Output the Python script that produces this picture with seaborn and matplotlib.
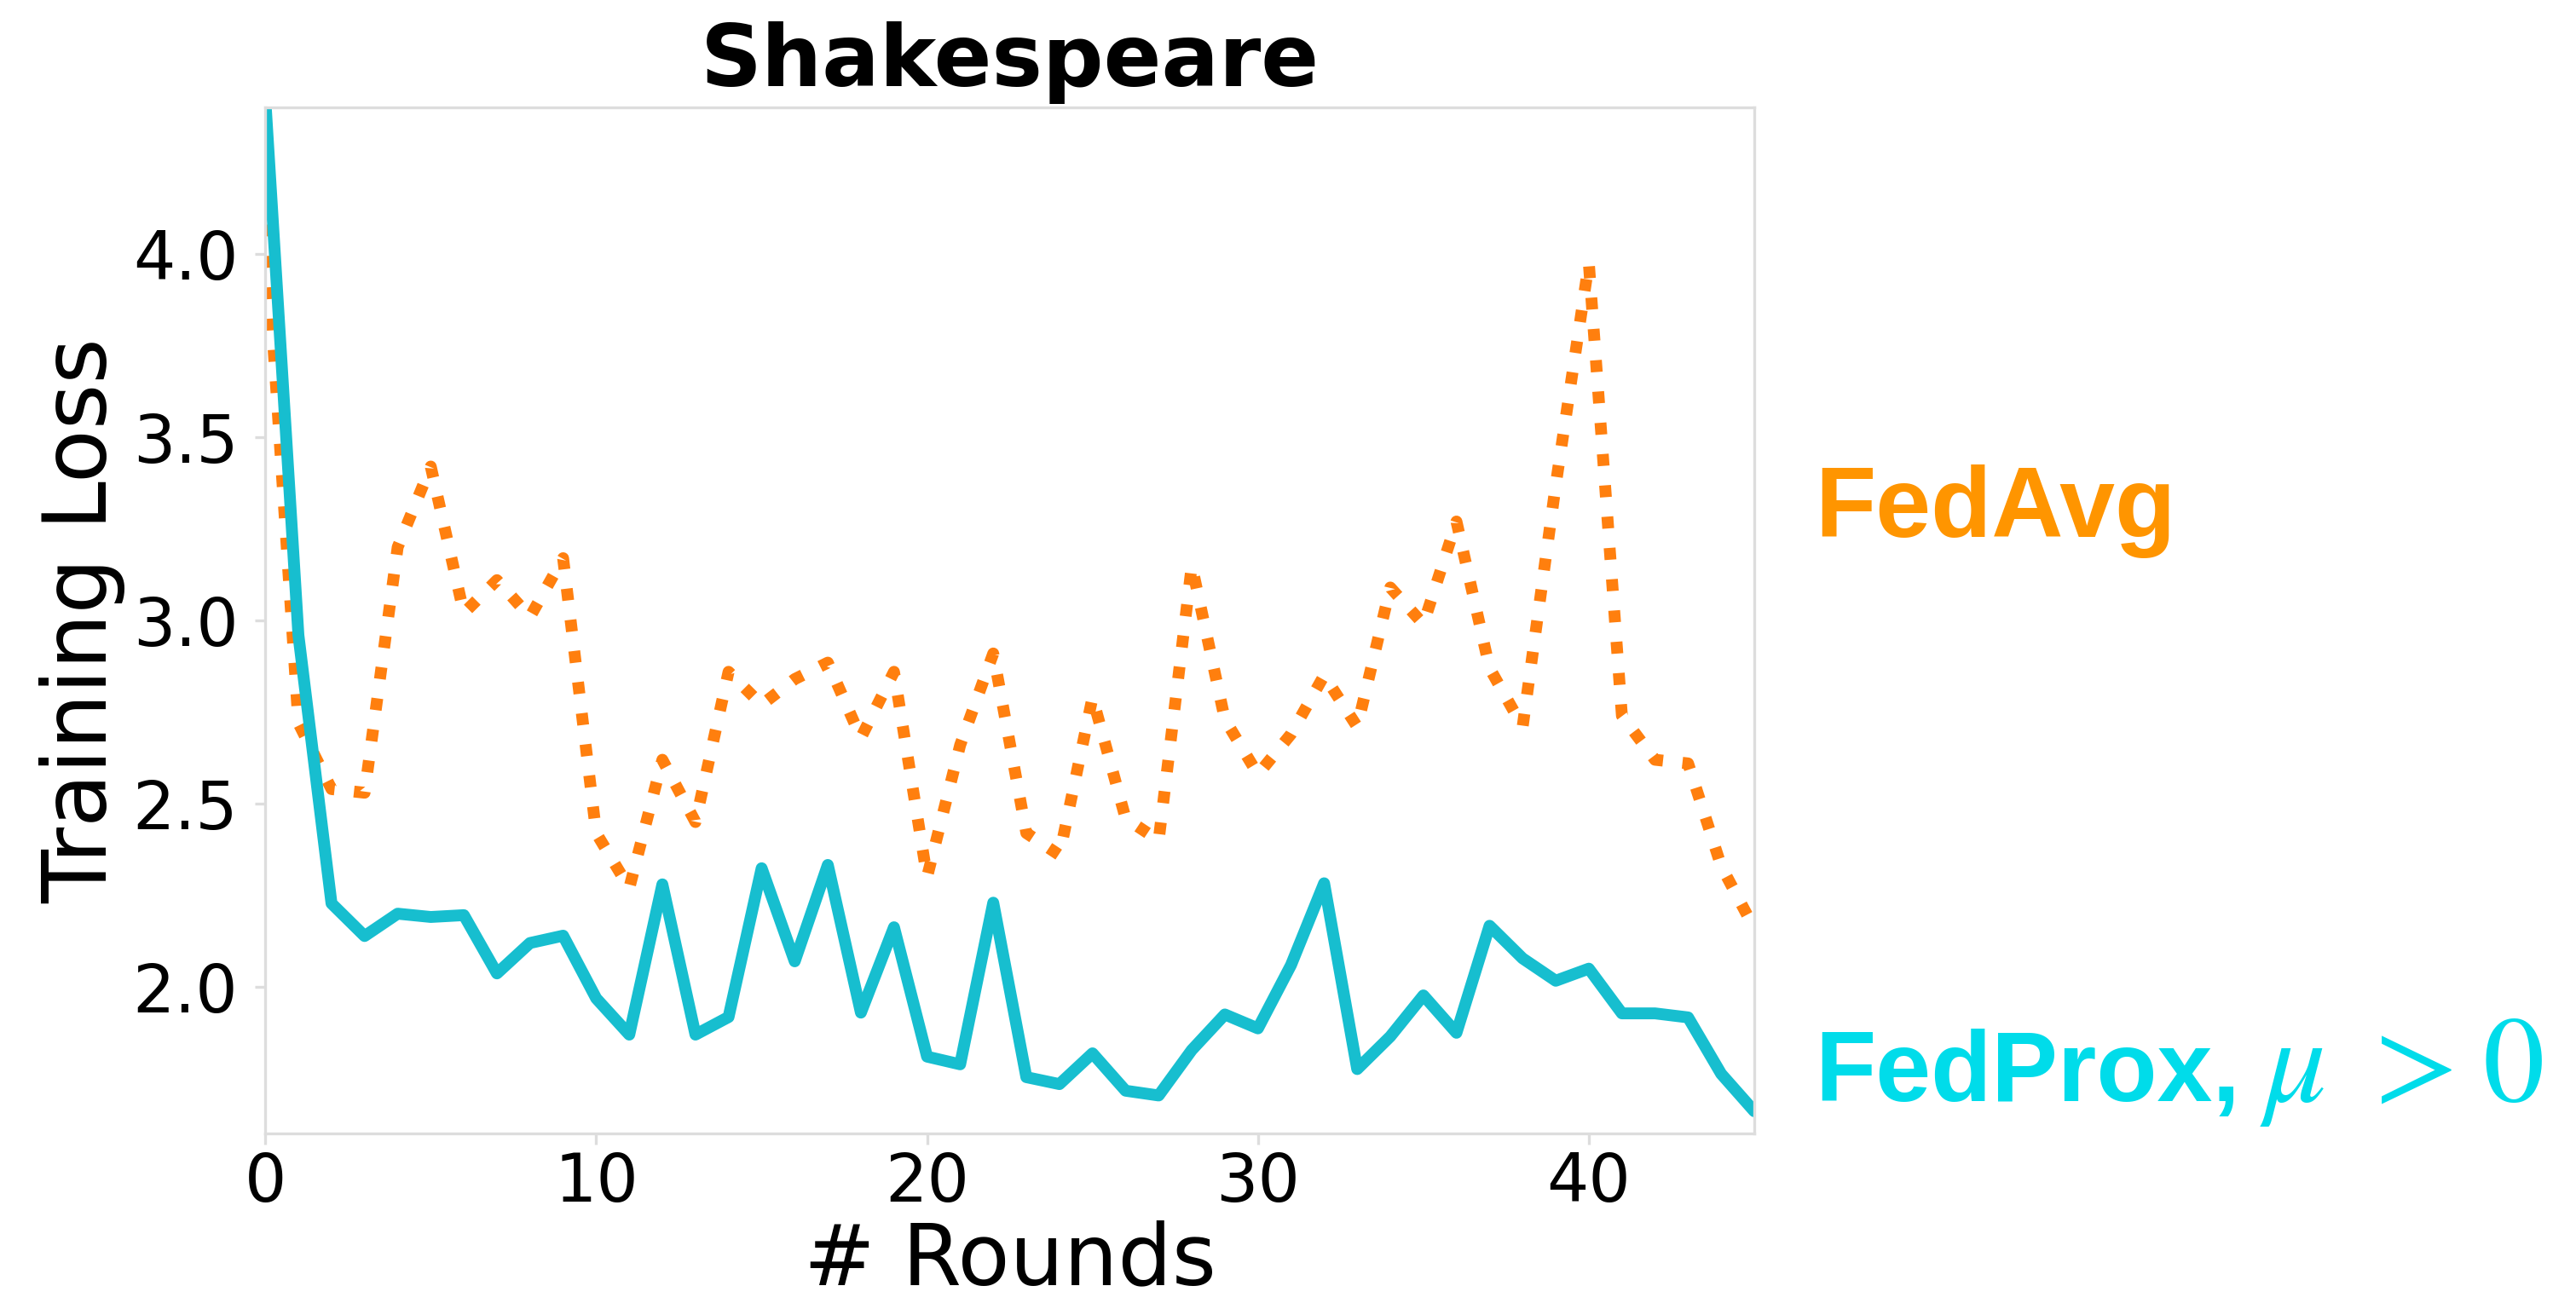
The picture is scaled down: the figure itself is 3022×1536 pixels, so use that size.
import numpy as np
import pandas as pd
import matplotlib
matplotlib.use('Agg')
import matplotlib.pyplot as plt
import seaborn as sns

# training loss per round
rounds = list(range(46))
fedavg = [4.08, 2.72, 2.54, 2.53, 3.20, 3.42, 3.02, 3.11, 3.01, 3.17,
          2.42, 2.27, 2.62, 2.45, 2.86, 2.77, 2.84, 2.885, 2.68, 2.86,
          2.30, 2.66, 2.91, 2.42, 2.36, 2.79, 2.46, 2.40, 3.15, 2.73,
          2.58, 2.69, 2.85, 2.71, 3.09, 2.99, 3.27, 2.87, 2.71, 3.37,
          3.975, 2.74, 2.62, 2.61, 2.33, 2.16]
fedprox = [4.42, 2.96, 2.228, 2.139, 2.20, 2.191, 2.196, 2.037, 2.12, 2.14,
           1.969, 1.87, 2.28, 1.87, 1.918, 2.324, 2.07, 2.333, 1.93, 2.163,
           1.81, 1.789, 2.23, 1.754, 1.735, 1.819, 1.717, 1.704, 1.828, 1.925,
           1.887, 2.06, 2.283, 1.776, 1.865, 1.977, 1.875, 2.167, 2.078, 2.017,
           2.05, 1.928, 1.928, 1.917, 1.763, 1.661]

df = pd.DataFrame({'Round': rounds, 'FedAvg': fedavg, 'FedProx': fedprox})

sns.set_style('white')
plt.rcParams['font.family'] = ['DejaVu Sans']
plt.rcParams['text.color'] = 'black'
plt.rcParams['axes.labelcolor'] = 'black'
plt.rcParams['xtick.color'] = 'black'
plt.rcParams['ytick.color'] = 'black'

fig = plt.figure(figsize=(15.11, 7.68), dpi=200)
ax = fig.add_axes([0.103, 0.134, 0.578, 0.784])

sns.lineplot(data=df, x='Round', y='FedAvg', ax=ax, color='#ff7f0e', lw=5, linestyle=':')
sns.lineplot(data=df, x='Round', y='FedProx', ax=ax, color='#17becf', lw=5)

ax.set_xlim(0, 45)
ax.set_ylim(1.6, 4.4)
ax.set_xticks([0, 10, 20, 30, 40])
ax.set_yticks([2.0, 2.5, 3.0, 3.5, 4.0])
ax.tick_params(axis='both', labelsize=28, length=4.5, width=1.2, color='#dddddd',
               bottom=True, left=True, labelcolor='black')
ax.tick_params(axis='x', pad=2.5)
ax.tick_params(axis='y', pad=7)
for s in ax.spines.values():
    s.set_color('#dddddd')
    s.set_linewidth(1.2)

ax.set_title('Shakespeare', fontsize=36, fontweight='bold', pad=9)
ax.set_xlabel('# Rounds', fontsize=36, labelpad=2)
ax.set_ylabel('Training Loss', fontsize=37, labelpad=3)

fig.text(0.7045, 0.59, 'FedAvg', color='#ff9500', fontsize=42, fontweight='bold',
         family='Liberation Sans')
prox_col = '#00dcea'
fig.text(0.7045, 0.1589, 'FedProx,', color=prox_col, fontsize=42,
         fontweight='bold', family='Liberation Sans')
# math part of the label, spaced out like the original
for xpos, sym in [(0.890, r'$\mu$'), (0.9337, r'$>$'), (0.9752, r'$0$')]:
    fig.text(xpos, 0.1589, sym, color=prox_col, fontsize=52, ha='center',
             math_fontfamily='stix')

fig.savefig('out.png', dpi=200)
